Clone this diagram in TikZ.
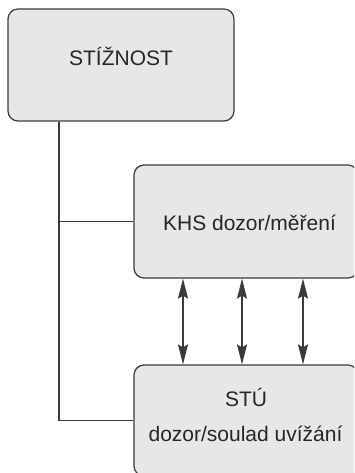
\documentclass[tikz,border=0pt]{standalone}
\usepackage{fontspec}
\setmainfont{Liberation Sans}
\usetikzlibrary{arrows.meta}
\definecolor{boxfill}{HTML}{E6E7E8}
\definecolor{boxline}{HTML}{3A3A3A}
\begin{document}
\begin{tikzpicture}[x=1pt,y=-1pt,
  box/.style={draw=boxline, fill=boxfill, line width=1.2pt, rounded corners=10pt, inner sep=0pt},
  lbl/.style={anchor=base, inner sep=0pt, font=\fontsize{21}{25}\selectfont, text=black!85},
  conn/.style={draw=boxline, line width=1.1pt},
  dbl/.style={conn, {Stealth[length=20pt,width=10pt,inset=3pt]}-{Stealth[length=20pt,width=10pt,inset=3pt]}}]
\useasboundingbox (0,0) rectangle (354,473);
\clip (0,0) rectangle (354,473);
\node[box, minimum width=226pt, minimum height=112pt] (b1) at (121,65) {};
\node[box, minimum width=224pt, minimum height=113pt] (b2) at (246,221.5) {};
\node[box, minimum width=224pt, minimum height=111pt] (b3) at (246,420.5) {};
\node[lbl] (t1) at (121,66) {STÍŽNOST};
\node[lbl] (t2) at (249.5,230) {KHS dozor/měření};
\node[lbl] (t3) at (246,406) {STÚ};
\node[lbl] (t4) at (245.5,441) {dozor/soulad uvížání};
\coordinate (top) at (59,0 |- b1.south);
\draw[conn] (top) |- (b3.west);
\draw[conn] (top |- b2.west) -- (b2.west);
\foreach \x/\n in {183/a,242/b,303/c}{
  \coordinate (u\n) at (\x,0 |- b2.south);
  \coordinate (d\n) at (\x,0 |- b3.north);
  \draw[dbl] (u\n) -- (d\n);
}
\end{tikzpicture}
\end{document}
